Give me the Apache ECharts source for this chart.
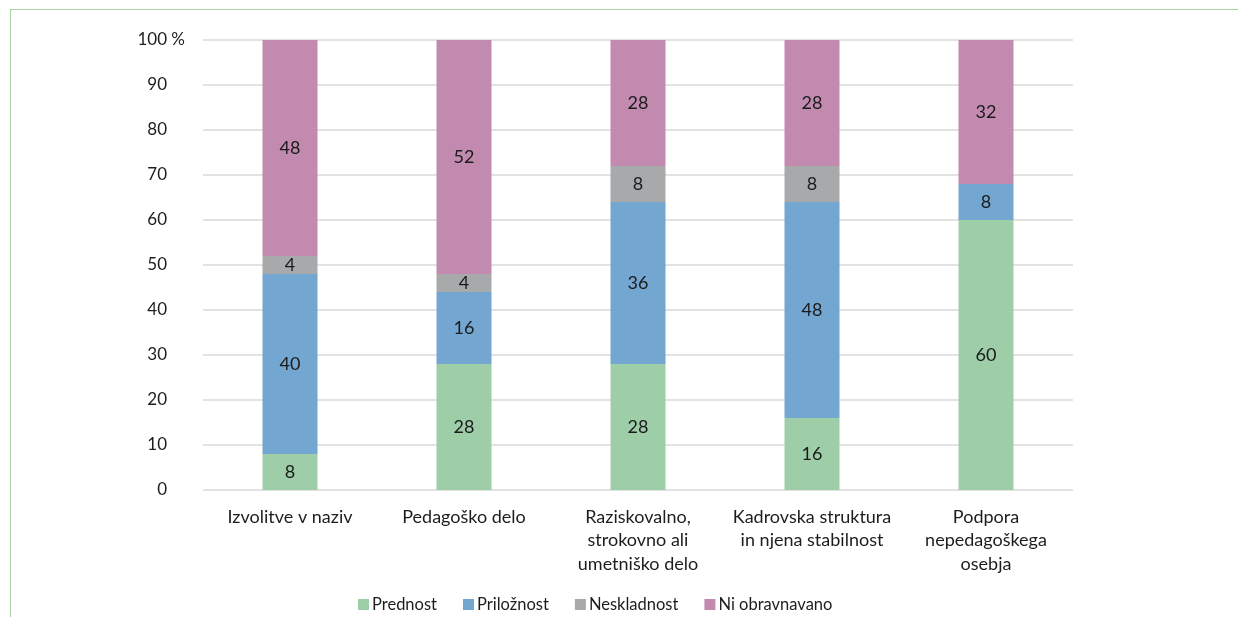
<!DOCTYPE html>
<html>
<head>
<meta charset="utf-8">
<script src="https://cdn.jsdelivr.net/npm/echarts@6/dist/echarts.min.js"></script>
<style>
html,body{margin:0;padding:0;background:#fff;}
#c{position:absolute;left:0;top:0;width:1238px;height:617px;}
#frame{position:absolute;left:10px;top:9px;right:0;bottom:0;border-left:1.5px solid #a9d3a3;border-top:1.5px solid #a9d3a3;pointer-events:none;}
</style>
</head>
<body>
<div id="c"></div>
<div id="frame"></div>
<script>
const categories = ['Izvolitve v naziv', 'Pedagoško delo', 'Raziskovalno,\nstrokovno ali\numetniško delo', 'Kadrovska struktura\nin njena stabilnost', 'Podpora\nnepedagoškega\nosebja'];
const seriesNames = ['Prednost', 'Priložnost', 'Neskladnost', 'Ni obravnavano'];
const prednost = [8, 28, 28, 16, 60];
const priloznost = [40, 16, 36, 48, 8];
const neskladnost = [4, 4, 8, 8, 0];
const niObravnavano = [48, 52, 28, 28, 32];
const yTicks = [0, 10, 20, 30, 40, 50, 60, 70, 80, 90, 100];

const colors = ['#9dcea8', '#73a7d2', '#a7a9aa', '#c38ab0'];
const FONT = 'Lato, "Open Sans", sans-serif';
const values = [prednost, priloznost, neskladnost, niObravnavano];

const chart = echarts.init(document.getElementById('c'));
chart.setOption({
  animation: false,
  textStyle: {fontFamily: FONT},
  grid: {left: 203, right: 165, top: 40, bottom: 127},
  legend: {
    top: 596, left: 358, padding: 0,
    itemWidth: 11, itemHeight: 11, itemGap: 26,
    icon: 'rect',
    textStyle: {fontSize: 16.5, color: '#1d1d1d', fontFamily: FONT, padding: [0, 0, 0, -2]},
    data: seriesNames
  },
  xAxis: {
    type: 'category',
    data: categories,
    axisLine: {show: false},
    axisTick: {show: false},
    axisLabel: {fontSize: 18, color: '#1d1d1d', lineHeight: 23.5, margin: 15, interval: 0}
  },
  yAxis: {
    type: 'value', min: 0, max: 100, interval: 10,
    axisLine: {show: false}, axisTick: {show: false},
    splitLine: {lineStyle: {color: '#d9d9d9', width: 1.5}},
    axisLabel: {
      fontSize: 17, color: '#1d1d1d', margin: 18,
      formatter: function (v) { return yTicks.indexOf(v) < 0 ? '' : (v === 100 ? v + ' %' : v + '{h| %}'); },
      rich: {h: {color: 'transparent', fontSize: 17}}
    }
  },
  series: values.map(function (arr, i) {
    return {
      name: seriesNames[i], type: 'bar', stack: 's', barWidth: 55,
      data: arr,
      itemStyle: {color: colors[i]},
      label: {
        show: true, position: 'inside', fontSize: 18, color: '#1b1b1b',
        formatter: function (p) { return p.value ? String(p.value) : ''; }
      }
    };
  })
});
</script>
</body>
</html>
